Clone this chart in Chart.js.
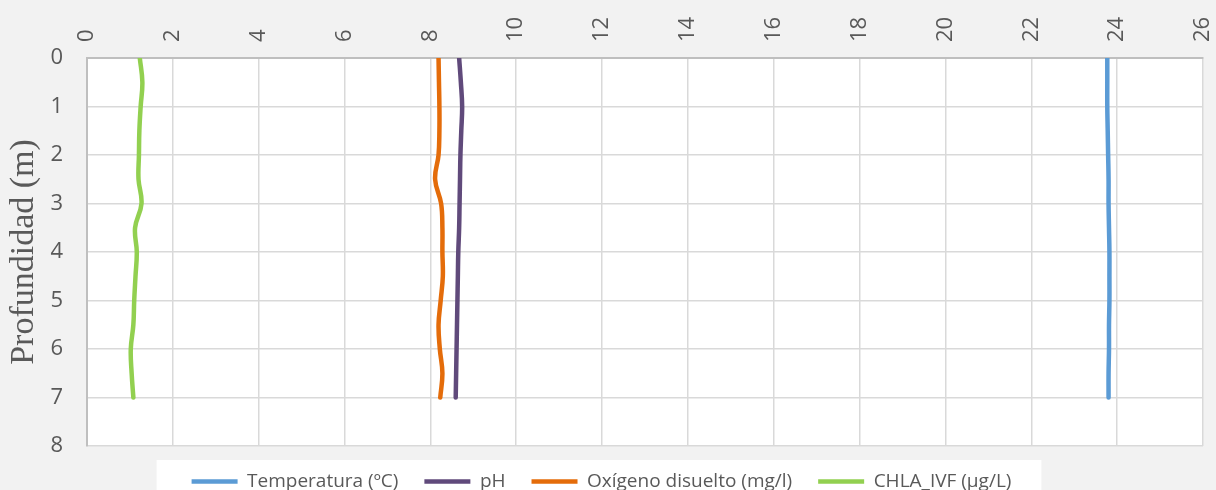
<!DOCTYPE html>
<html>
<head>
<meta charset="utf-8">
<script src="https://cdn.jsdelivr.net/npm/chart.js@4/dist/chart.umd.min.js"></script>
<style>
  html, body { margin: 0; background: #f2f2f2; }
</style>
</head>
<body>
<canvas id="profileChart" width="1216" height="490"></canvas>
<script>
// depth profile, one reading every 0.5 m
const depths = [0, 0.5, 1, 1.5, 2, 2.5, 3, 3.5, 4, 4.5, 5, 5.5, 6, 6.5, 7];
const temperatura = [23.77, 23.77, 23.77, 23.78, 23.79, 23.80, 23.80, 23.81, 23.82, 23.82, 23.82, 23.81, 23.81, 23.80, 23.80];
const ph = [8.67, 8.71, 8.74, 8.72, 8.70, 8.69, 8.68, 8.67, 8.65, 8.64, 8.63, 8.62, 8.61, 8.60, 8.59];
const oxigeno = [8.19, 8.20, 8.21, 8.21, 8.19, 8.11, 8.25, 8.28, 8.28, 8.29, 8.24, 8.19, 8.22, 8.28, 8.23];
const chla = [1.23, 1.29, 1.25, 1.22, 1.21, 1.20, 1.27, 1.12, 1.16, 1.13, 1.10, 1.08, 1.02, 1.04, 1.08];

const seriesNames = ['Temperatura (ºC)', 'pH', 'Oxígeno disuelto (mg/l)', 'CHLA_IVF (µg/L)'];
const xTicks = [0, 2, 4, 6, 8, 10, 12, 14, 16, 18, 20, 22, 24, 26];
const yTicks = [0, 1, 2, 3, 4, 5, 6, 7, 8];

const textGrey = '#595959';
const tickSize = 22;

function toPoints(values) {
    return values.map((v, i) => ({ x: v, y: depths[i] }));
}

function makeSet(label, values, color) {
    return {
        label: label,
        data: toPoints(values),
        showLine: true,
        borderColor: color,
        backgroundColor: color,
        borderWidth: 4.5,
        borderCapStyle: 'round',
        pointRadius: 0,
        pointHoverRadius: 0,
        tension: 0.4
    };
}

// white plot area + white legend box on grey page
const backdrop = {
    id: 'backdrop',
    beforeDraw(chart) {
        const ctx = chart.ctx;
        const a = chart.chartArea;
        ctx.save();
        ctx.fillStyle = '#f2f2f2';
        ctx.fillRect(0, 0, chart.width, chart.height);
        ctx.fillStyle = '#ffffff';
        ctx.fillRect(a.left, a.top, a.right - a.left, a.bottom - a.top);
        const boxes = chart.legend.legendHitBoxes;
        if (boxes && boxes.length) {
            const minX = Math.min(...boxes.map(b => b.left));
            const maxX = Math.max(...boxes.map(b => b.left + b.width));
            ctx.fillRect(minX - 35, 460, (maxX - minX) + 65, 40);
        }
        ctx.restore();
    }
};

new Chart(document.getElementById('profileChart'), {
    type: 'scatter',
    data: {
        datasets: [
            makeSet(seriesNames[0], temperatura, '#5b9bd5'),
            makeSet(seriesNames[1], ph, '#604a7b'),
            makeSet(seriesNames[2], oxigeno, '#e46c0a'),
            makeSet(seriesNames[3], chla, '#92d050')
        ]
    },
    options: {
        responsive: false,
        animation: false,
        layout: { padding: { left: 0, right: 13, top: 0, bottom: -11 } },
        scales: {
            x: {
                type: 'linear',
                position: 'top',
                min: xTicks[0],
                max: xTicks[xTicks.length - 1],
                afterBuildTicks: s => { s.ticks = xTicks.map(v => ({ value: v })); },
                afterFit: s => {
                    s.height = 58;
                    s.paddingLeft = 0;
                    s.paddingRight = 0;
                },
                ticks: {
                    autoSkip: false,
                    minRotation: 90,
                    maxRotation: 90,
                    padding: 16,
                    labelOffset: tickSize * 1.2, // rotated top labels sit left of the tick otherwise
                    color: textGrey,
                    font: { family: 'Open Sans', size: tickSize }
                },
                grid: { color: '#d9d9d9', lineWidth: 1.5, drawTicks: false },
                border: { color: '#bfbfbf', width: 2 }
            },
            y: {
                type: 'linear',
                reverse: true,
                min: yTicks[0],
                max: yTicks[yTicks.length - 1],
                afterBuildTicks: s => { s.ticks = yTicks.map(v => ({ value: v })); },
                afterFit: s => { s.width = 87; },
                ticks: {
                    padding: 24,
                    color: textGrey,
                    font: { family: 'Open Sans', size: tickSize }
                },
                grid: { color: '#d9d9d9', lineWidth: 1.5, drawTicks: false },
                border: { color: '#bfbfbf', width: 2 },
                title: {
                    display: true,
                    text: 'Profundidad (m)',
                    color: textGrey,
                    font: { family: 'Liberation Serif', size: 34 },
                    padding: { top: 4, bottom: 0 }
                }
            }
        },
        plugins: {
            tooltip: { enabled: false },
            legend: {
                position: 'bottom',
                labels: {
                    usePointStyle: true,
                    pointStyle: 'line',
                    pointStyleWidth: 46,
                    boxHeight: 6,
                    padding: 26,
                    color: textGrey,
                    font: { family: 'Open Sans', size: 19 }
                }
            }
        }
    },
    plugins: [backdrop]
});
</script>
</body>
</html>
